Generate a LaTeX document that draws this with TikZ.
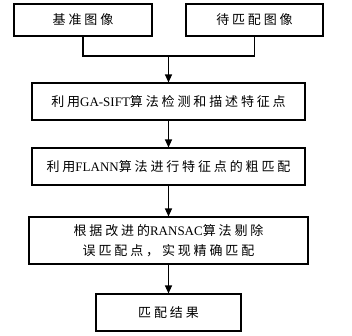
\documentclass[tikz,border=0pt]{standalone}
\usepackage{fontspec}
\setmainfont{Liberation Serif}
\newfontfamily\cjk[LetterSpace=22]{Noto Sans CJK SC}
\newcommand{\zh}[1]{{\cjk #1}}
\usetikzlibrary{arrows.meta}
\begin{document}
\begin{tikzpicture}[x=1pt,y=-1pt,
  box/.style={draw, line width=1.1pt, inner sep=0pt, align=center,
    font=\fontsize{13}{20}\selectfont},
  conn/.style={line width=1.1pt},
  arr/.style={conn, -{Triangle[length=8pt,width=7pt]}}]
\useasboundingbox (0,0) rectangle (352,335);
\node[box, minimum width=138pt, minimum height=32pt] (b1) at (83,20) {\zh{基准图像}};
\node[box, minimum width=137pt, minimum height=32pt] (b2) at (254.5,20) {\zh{待匹配图像}};
\node[box, minimum width=273pt, minimum height=37pt] (b3) at (168.5,101.5) {\zh{利用}GA-SIFT\zh{算法检测和描述特征点}};
\node[box, minimum width=273pt, minimum height=37pt] (b4) at (168.5,166.5) {\zh{利用}FLANN\zh{算法进行特征点的粗匹配}};
\node[box, minimum width=279pt, minimum height=47pt] (b5) at (168.5,240.5) {\zh{根据改进的}RANSAC\zh{算法剔除}\\\zh{误匹配点，实现精确匹配}};
\node[box, minimum width=145pt, minimum height=37pt] (b6) at (168.5,312.5) {\zh{匹配结果}};
\coordinate (m) at (168.5,56);
\draw[conn] (b1.south) |- (m) -| (b2.south);
\draw[arr] (m) -- (b3.north);
\draw[arr] (b3) -- (b4);
\draw[arr] (b4) -- (b5);
\draw[arr] (b5) -- (b6);
\end{tikzpicture}
\end{document}
